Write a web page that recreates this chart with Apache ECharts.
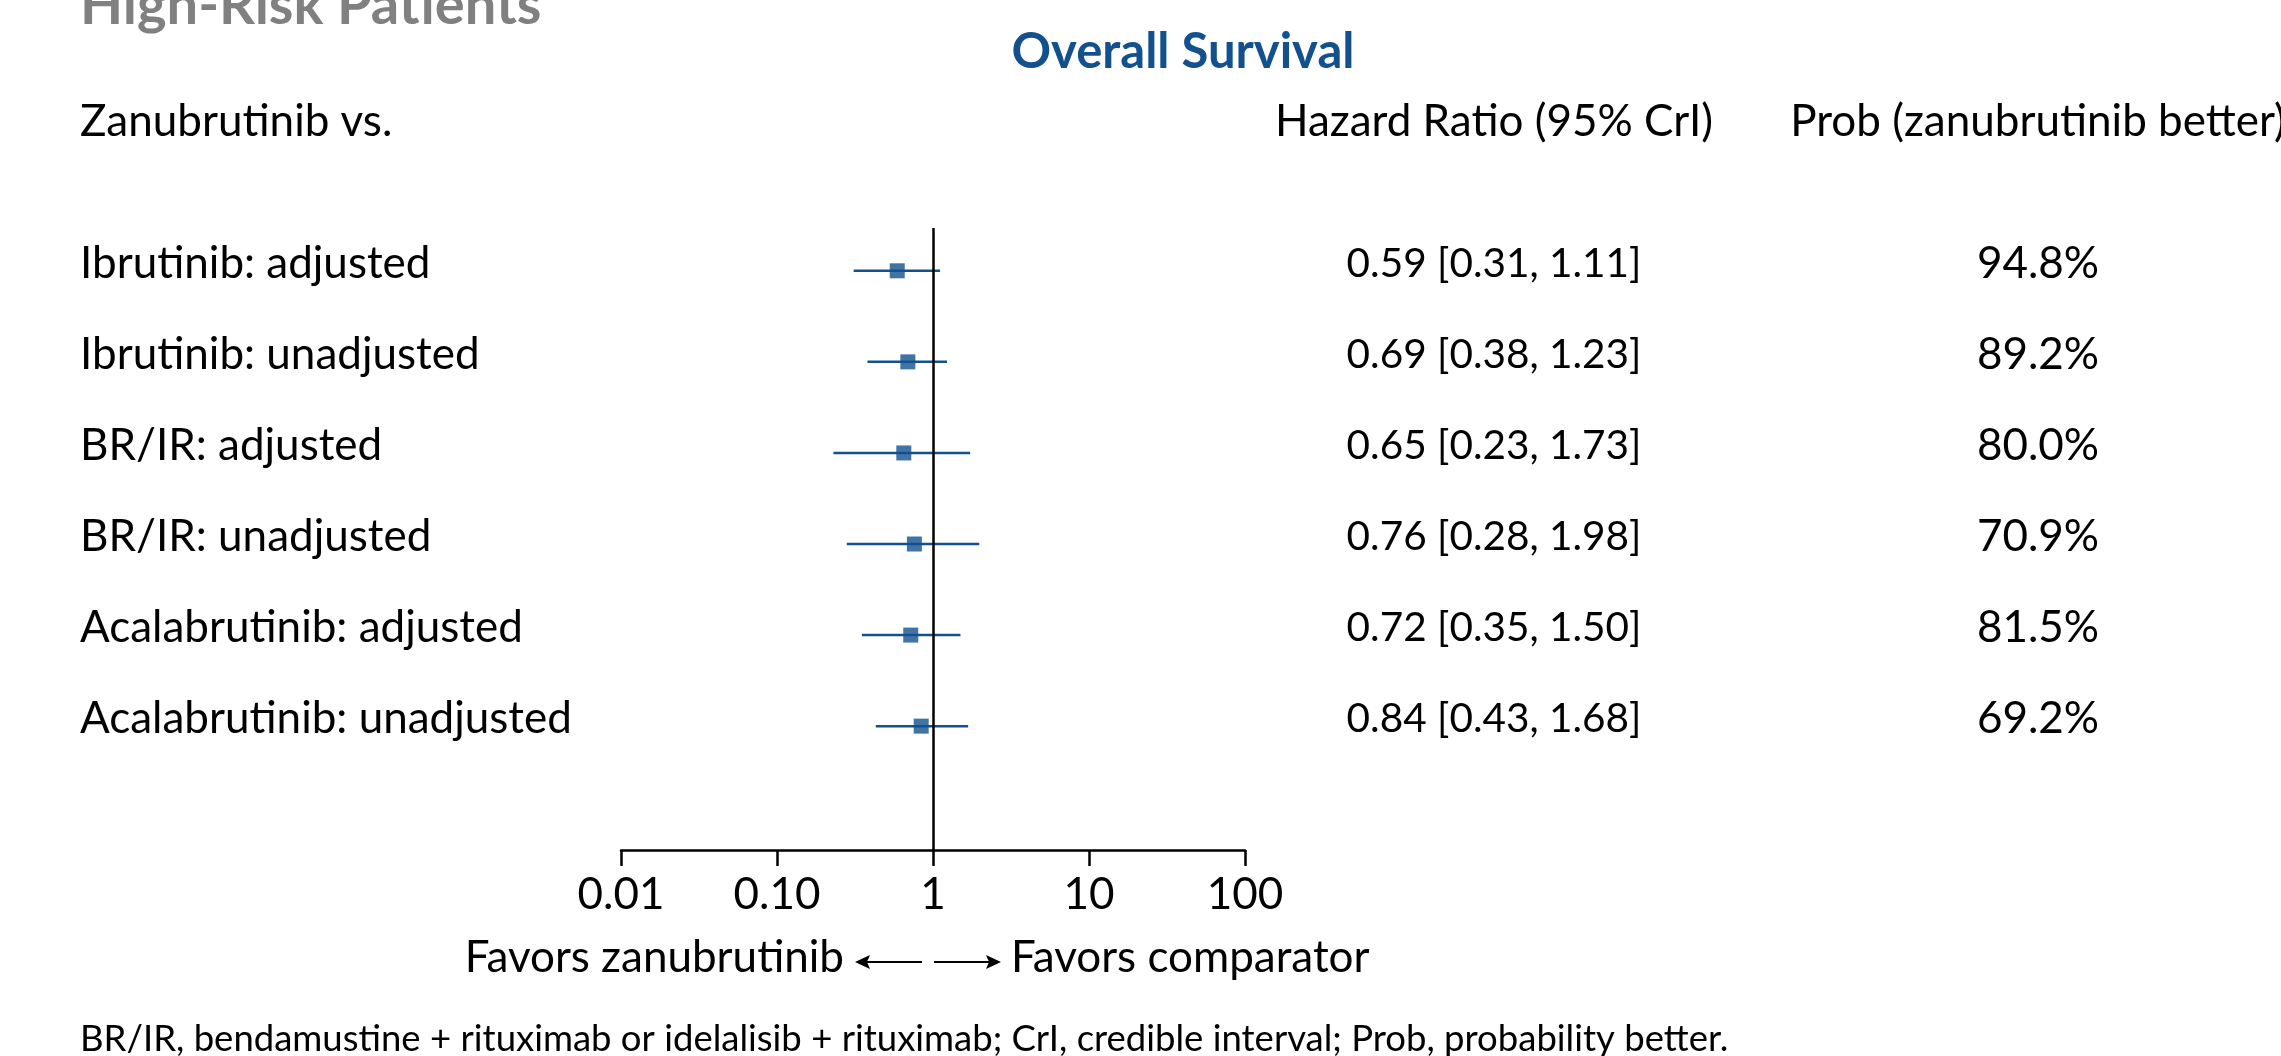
<!DOCTYPE html>
<html><head><meta charset="utf-8">
<script src="https://cdn.jsdelivr.net/npm/echarts@6/dist/echarts.min.js"></script>
<style>html,body{margin:0;padding:0;background:#fff;}#c{width:2281px;height:1056px;}</style>
</head><body><div id="c"></div>
<script>
const comparators = ['Ibrutinib: adjusted','Ibrutinib: unadjusted','BR/IR: adjusted','BR/IR: unadjusted','Acalabrutinib: adjusted','Acalabrutinib: unadjusted'];
const hazardRatio = [0.59,0.69,0.65,0.76,0.72,0.84];
const lowerCrI = [0.31,0.38,0.23,0.28,0.35,0.43];
const upperCrI = [1.11,1.23,1.73,1.98,1.50,1.68];
const probBetter = ['94.8%','89.2%','80.0%','70.9%','81.5%','69.2%'];
const tickLabels = ['0.01','0.10','1','10','100'];

const BLUE = '#13508e';
const FONT = 'Lato, "Noto Sans", sans-serif';
const FS = 44;

function txt(text, x, y, opt){
  opt = opt || {};
  const align = opt.align || 'left';
  return {type:'text', silent:true, style:{text:text, x:x, y:y,
    font:(opt.weight||'normal')+' '+(opt.size||FS)+'px '+FONT,
    fill:opt.color||'#000', textAlign:align, align:align,
    textVerticalAlign:opt.va||'middle', verticalAlign:opt.va||'middle'}};
}

const rows = comparators.map((c,i)=>[lowerCrI[i], upperCrI[i], hazardRatio[i], i]);

function renderItem(params, api){
  const idx = params.dataIndex;
  const i = api.value(3);
  const p1 = api.coord([api.value(0), i]);
  const p2 = api.coord([api.value(1), i]);
  const y = p1[1];
  const hrText = hazardRatio[idx].toFixed(2)+' ['+lowerCrI[idx].toFixed(2)+', '+upperCrI[idx].toFixed(2)+']';
  return {type:'group', children:[
    {type:'line', shape:{x1:p1[0], y1:y, x2:p2[0], y2:y}, style:{stroke:BLUE, lineWidth:2.5}},
    txt(comparators[idx], 80, y-7),
    txt(hrText, 1494, y-7, {align:'center', size:40.5}),
    txt(probBetter[idx], 2038, y-7, {align:'center'})
  ]};
}

const chart = echarts.init(document.getElementById('c'));
chart.setOption({
  animation:false,
  backgroundColor:'#fff',
  grid:{left:621, right:1036, top:228, bottom:206},
  xAxis:{type:'log', logBase:10, min:0.01, max:100,
    axisLine:{show:true, onZero:false, lineStyle:{color:'#000', width:2.5}},
    axisTick:{show:true, length:16, lineStyle:{color:'#000', width:2.5}},
    axisLabel:{margin:23, fontSize:FS, color:'#000', fontFamily:FONT,
      formatter: v => tickLabels[Math.round(Math.log10(v))+2]},
    splitLine:{show:false}},
  yAxis:{type:'value', inverse:true, min:-0.47, max:6.36, show:false},
  series:[
    {type:'custom', renderItem:renderItem, data:rows, encode:{x:[0,1,2], y:3}, clip:false, z:3},
    {type:'scatter', data:hazardRatio.map((v,i)=>[v,i]), symbol:'rect', symbolSize:15,
      itemStyle:{color:BLUE}, z:4,
      markLine:{silent:true, symbol:'none', label:{show:false},
        lineStyle:{color:'#000', type:'solid', width:2.5}, data:[{xAxis:1}]}}
  ],
  graphic:[
    txt('High-Risk Patients', 80, 34, {weight:'bold', size:56, color:'#808080', va:'bottom'}),
    txt('Overall Survival', 1183, 52, {weight:'bold', size:49, color:BLUE, align:'center'}),
    txt('Zanubrutinib vs.', 80, 122),
    txt('Hazard Ratio (95% CrI)', 1494, 122, {align:'center'}),
    txt('Prob (zanubrutinib better)', 2038, 122, {align:'center'}),
    txt('Favors zanubrutinib', 844, 958, {align:'right'}),
    txt('Favors comparator', 1011, 958),
    {type:'line', silent:true, shape:{x1:866, y1:962, x2:922, y2:962}, style:{stroke:'#000', lineWidth:2}},
    {type:'polygon', silent:true, shape:{points:[[855,962],[870,955],[867,962],[870,969]]}, style:{fill:'#000'}},
    {type:'line', silent:true, shape:{x1:934, y1:962, x2:990, y2:962}, style:{stroke:'#000', lineWidth:2}},
    {type:'polygon', silent:true, shape:{points:[[1001,962],[986,955],[989,962],[986,969]]}, style:{fill:'#000'}},
    txt('BR/IR, bendamustine + rituximab or idelalisib + rituximab; CrI, credible interval; Prob, probability better.', 80, 1039, {size:36.5})
  ]
});
</script></body></html>
